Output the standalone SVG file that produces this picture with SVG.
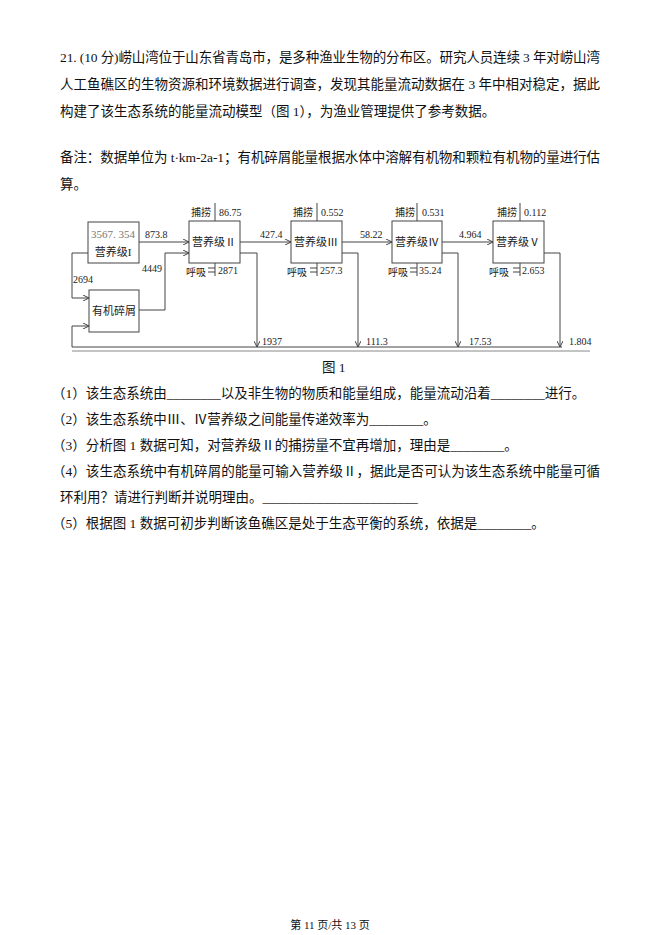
<svg xmlns="http://www.w3.org/2000/svg" width="661" height="935" viewBox="0 0 661 935">
<style>
.t{font-family:"Liberation Serif","Noto Sans CJK SC",serif;font-size:13.5px;fill:#111}
.d{font-family:"Liberation Serif","Noto Sans CJK SC",serif;font-size:10px;fill:#222}
.b{font-family:"Liberation Serif","Noto Sans CJK SC",serif;font-size:11px;fill:#222;text-anchor:middle}
.box{fill:#fff;stroke:#444;stroke-width:1}
.ln{fill:none;stroke:#444;stroke-width:1}
</style>
<defs><marker id="a" markerWidth="7" markerHeight="6" refX="6" refY="3" orient="auto" markerUnits="userSpaceOnUse"><path d="M0,0 L6,3 L0,6" fill="none" stroke="#444"/></marker></defs>
<rect width="661" height="935" fill="#fff"/>
<text class="t" x="60" y="62" textLength="540">21. (10 分)崂山湾位于山东省青岛市，是多种渔业生物的分布区。研究人员连续 3 年对崂山湾</text>
<text class="t" x="60" y="89" textLength="540">人工鱼礁区的生物资源和环境数据进行调查，发现其能量流动数据在 3 年中相对稳定，据此</text>
<text class="t" x="60" y="116">构建了该生态系统的能量流动模型（图 1），为渔业管理提供了参考数据。</text>
<text class="t" x="60" y="162" textLength="540">备注：数据单位为 t·km-2a-1；有机碎屑能量根据水体中溶解有机物和颗粒有机物的量进行估</text>
<text class="t" x="60" y="189">算。</text>
<g id="connectors">
<path class="ln" d="M139,242 H189" marker-end="url(#a)"/>
<path class="ln" d="M139,310 H165 V253 H189" marker-end="url(#a)"/>
<path class="ln" d="M88,253 H72 V298 H89" marker-end="url(#a)"/>
<path class="ln" d="M562,347 H72 V326 H89" marker-end="url(#a)"/>
<path class="ln" d="M240,242 H291" marker-end="url(#a)"/>
<path class="ln" d="M342,242 H392" marker-end="url(#a)"/>
<path class="ln" d="M442,242 H493" marker-end="url(#a)"/>
<path class="ln" d="M240,253 H257 V347" marker-end="url(#a)"/>
<path class="ln" d="M342,253 H358 V347" marker-end="url(#a)"/>
<path class="ln" d="M442,253 H458 V347" marker-end="url(#a)"/>
<path class="ln" d="M544,253 H560 V347" marker-end="url(#a)"/>
<path class="ln" d="M215,221 V203 M317,221 V203 M417,221 V203 M520,221 V203"/>
<path class="ln" d="M215,263 V276 M208,268 H215 M208,272 H215 M317,263 V276 M310,268 H317 M310,272 H317 M417,263 V276 M410,268 H417 M410,272 H417 M520,263 V276 M513,268 H520 M513,272 H520"/>
<path d="M72,351 H590" stroke="#888" stroke-width="1"/>
<text class="d" x="145" y="238">873.8</text>
<text class="d" x="142" y="272">4449</text>
<text class="d" x="73" y="283">2694</text>
<text class="d" x="260" y="238">427.4</text>
<text class="d" x="360" y="238">58.22</text>
<text class="d" x="459" y="238">4.964</text>
<text class="d" x="262" y="345">1937</text>
<text class="d" x="366" y="345">111.3</text>
<text class="d" x="469" y="345">17.53</text>
<text class="d" x="569" y="345">1.804</text>
</g>
<g id="n1"><rect class="box" x="88" y="222" width="51" height="41"/><text class="b" x="113" y="238" style="fill:#777">3567. 354</text><text class="b" x="113" y="256">营养级I</text></g>
<g id="n0"><rect class="box" x="89" y="290" width="50" height="42"/><text class="b" x="114" y="315">有机碎屑</text></g>
<g id="n2"><rect class="box" x="189" y="221" width="51" height="42"/><text class="b" x="214" y="246">营养级Ⅱ</text><text class="d" x="191" y="216">捕捞</text><text class="d" x="219" y="216">86.75</text><text class="d" x="186" y="276">呼吸</text><text class="d" x="218" y="274">2871</text></g>
<g id="n3"><rect class="box" x="291" y="221" width="51" height="42"/><text class="b" x="316" y="246">营养级Ⅲ</text><text class="d" x="293" y="216">捕捞</text><text class="d" x="321" y="216">0.552</text><text class="d" x="287" y="276">呼吸</text><text class="d" x="320" y="274">257.3</text></g>
<g id="n4"><rect class="box" x="392" y="221" width="50" height="42"/><text class="b" x="417" y="246">营养级Ⅳ</text><text class="d" x="395" y="216">捕捞</text><text class="d" x="422" y="216">0.531</text><text class="d" x="388" y="276">呼吸</text><text class="d" x="419" y="274">35.24</text></g>
<g id="n5"><rect class="box" x="493" y="221" width="51" height="42"/><text class="b" x="518" y="246">营养级Ⅴ</text><text class="d" x="497" y="216">捕捞</text><text class="d" x="524" y="216">0.112</text><text class="d" x="489" y="276">呼吸</text><text class="d" x="522" y="274">2.653</text></g>
<text class="t" x="322" y="372">图 1</text>
<text class="t" x="52" y="398">（1）该生态系统由________以及非生物的物质和能量组成，能量流动沿着________进行。</text>
<text class="t" x="52" y="424">（2）该生态系统中Ⅲ、Ⅳ营养级之间能量传递效率为________。</text>
<text class="t" x="52" y="450">（3）分析图 1 数据可知，对营养级Ⅱ的捕捞量不宜再增加，理由是________。</text>
<text class="t" x="52" y="476" textLength="548">（4）该生态系统中有机碎屑的能量可输入营养级Ⅱ，据此是否可认为该生态系统中能量可循</text>
<text class="t" x="60" y="502">环利用？请进行判断并说明理由。_______________________</text>
<text class="t" x="52" y="528">（5）根据图 1 数据可初步判断该鱼礁区是处于生态平衡的系统，依据是________。</text>
<text class="t" x="330" y="929" text-anchor="middle" style="font-size:11px">第 11 页/共 13 页</text>
</svg>
